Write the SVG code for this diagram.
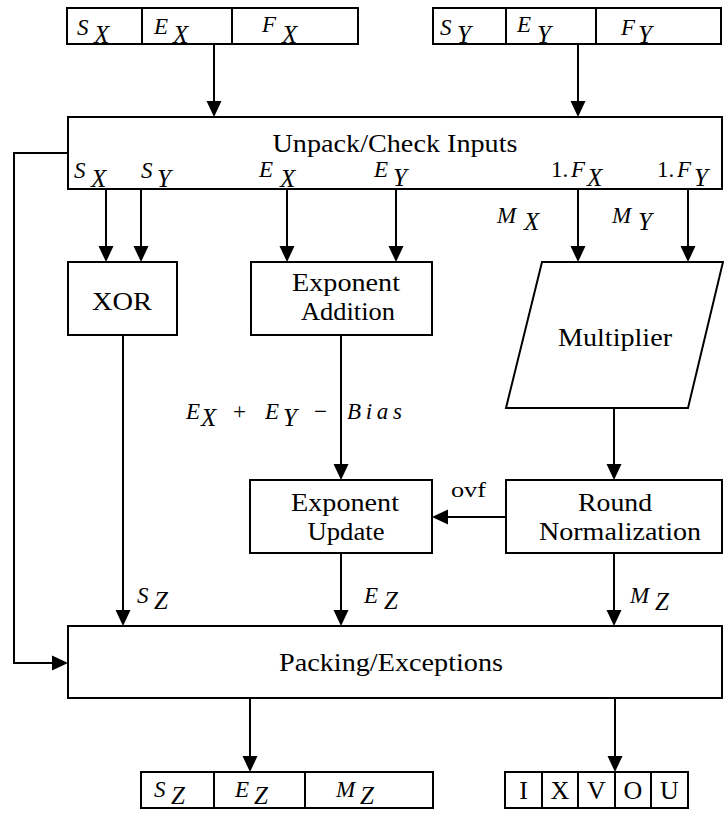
<svg xmlns="http://www.w3.org/2000/svg" width="724" height="813" viewBox="0 0 724 813">
<defs>
<style>
.box{fill:#fff;stroke:#000;stroke-width:2}
.ln{fill:none;stroke:#000;stroke-width:2}
.arr{fill:none;stroke:#000;stroke-width:2;marker-end:url(#ah)}
.t{font-family:"Liberation Serif","Times New Roman",serif;font-size:26px;fill:#000;text-anchor:middle}
.m{font-family:"Liberation Serif","Times New Roman",serif;font-style:italic;font-size:23px;fill:#000}
.s{font-size:25px}
.r{font-style:normal}
.o{font-family:"Liberation Serif","Times New Roman",serif;font-size:20px;fill:#000}
.f{font-family:"Liberation Serif","Times New Roman",serif;font-size:26px;fill:#000;text-anchor:middle}
</style>
<marker id="ah" viewBox="0 0 16 16" markerWidth="16" markerHeight="16" refX="13" refY="8" orient="auto" markerUnits="userSpaceOnUse">
<path d="M0,0.5 L16,8 L0,15.5 Z" fill="#000"/>
</marker>
</defs>
<rect width="724" height="813" fill="#fff"/>

<g id="connectors">
<line class="arr" x1="214" y1="44" x2="214" y2="114"/>
<line class="arr" x1="578" y1="44" x2="578" y2="114"/>
<line class="arr" x1="106" y1="189" x2="106" y2="259"/>
<line class="arr" x1="141" y1="189" x2="141" y2="259"/>
<line class="arr" x1="287" y1="189" x2="287" y2="259"/>
<line class="arr" x1="396" y1="189" x2="396" y2="259"/>
<line class="arr" x1="578" y1="189" x2="578" y2="259"/>
<line class="arr" x1="688" y1="189" x2="688" y2="259"/>
<line class="arr" x1="123" y1="335" x2="123" y2="623"/>
<line class="arr" x1="341" y1="335" x2="341" y2="477"/>
<line class="arr" x1="614" y1="408" x2="614" y2="477"/>
<line class="arr" x1="506" y1="517" x2="435" y2="517"/>
<line class="arr" x1="341" y1="553" x2="341" y2="623"/>
<line class="arr" x1="614" y1="553" x2="614" y2="623"/>
<polyline class="arr" points="68,153 14,153 14,663 65,663"/>
<line class="arr" x1="250" y1="698" x2="250" y2="769"/>
<line class="arr" x1="615" y1="698" x2="615" y2="769"/>
</g>

<g id="regX">
<rect class="box" x="67" y="8" width="291" height="36"/>
<line class="ln" x1="142" y1="8" x2="142" y2="44"/>
<line class="ln" x1="232" y1="8" x2="232" y2="44"/>
<text class="m" x="77" y="35">S<tspan class="s" x="94" y="43">X</tspan></text>
<text class="m" x="154" y="34">E<tspan class="s" x="173" y="43">X</tspan></text>
<text class="m" x="262" y="32">F<tspan class="s" x="282" y="43">X</tspan></text>
</g>

<g id="regY">
<rect class="box" x="433" y="8" width="288" height="36"/>
<line class="ln" x1="506" y1="8" x2="506" y2="44"/>
<line class="ln" x1="596" y1="8" x2="596" y2="44"/>
<text class="m" x="440" y="35">S<tspan class="s" x="457" y="43">Y</tspan></text>
<text class="m" x="517" y="32">E<tspan class="s" x="537" y="43">Y</tspan></text>
<text class="m" x="621" y="35">F<tspan class="s" x="638" y="43">Y</tspan></text>
</g>

<g id="unpack">
<rect class="box" x="68" y="117" width="654" height="72"/>
<text class="t" x="395" y="152" textLength="245" lengthAdjust="spacingAndGlyphs">Unpack/Check Inputs</text>
<text class="m" x="74" y="178">S<tspan class="s" x="91" y="187">X</tspan></text>
<text class="m" x="141" y="178">S<tspan class="s" x="157" y="187">Y</tspan></text>
<text class="m" x="259" y="177">E<tspan class="s" x="280" y="187">X</tspan></text>
<text class="m" x="374" y="177">E<tspan class="s" x="393" y="186">Y</tspan></text>
<text class="m" x="551" y="177"><tspan class="r">1.</tspan><tspan x="571">F</tspan><tspan class="s" x="587" y="186">X</tspan></text>
<text class="m" x="657" y="177"><tspan class="r">1.</tspan><tspan x="677">F</tspan><tspan class="s" x="694" y="186">Y</tspan></text>
</g>

<g id="mlabels">
<text class="m" x="497" y="223">M<tspan class="s" x="524" y="230">X</tspan></text>
<text class="m" x="612" y="223">M<tspan class="s" x="638" y="230">Y</tspan></text>
</g>

<g id="xor">
<rect class="box" x="68" y="262" width="109" height="73"/>
<text class="t" x="122" y="310" textLength="60" lengthAdjust="spacingAndGlyphs">XOR</text>
</g>

<g id="expadd">
<rect class="box" x="251" y="262" width="181" height="73"/>
<text class="t" x="346" y="291" textLength="108" lengthAdjust="spacingAndGlyphs">Exponent</text>
<text class="t" x="348" y="320" textLength="94" lengthAdjust="spacingAndGlyphs">Addition</text>
</g>

<g id="multiplier">
<polygon class="box" points="542,262 723,262 688,408 506,408"/>
<text class="t" x="615" y="346" textLength="114" lengthAdjust="spacingAndGlyphs">Multiplier</text>
</g>

<g id="biaslabel">
<text class="m" x="186" y="419">E<tspan class="s" x="201" y="426">X</tspan><tspan class="r" x="233" y="419">+</tspan><tspan x="265" y="419">E</tspan><tspan class="s" x="283" y="426">Y</tspan><tspan class="r" x="314" y="419">−</tspan><tspan x="347" y="419" textLength="55" lengthAdjust="spacing">Bias</tspan></text>
</g>

<g id="expupdate">
<rect class="box" x="250" y="480" width="182" height="73"/>
<text class="t" x="345" y="511" textLength="108" lengthAdjust="spacingAndGlyphs">Exponent</text>
<text class="t" x="346" y="540" textLength="77" lengthAdjust="spacingAndGlyphs">Update</text>
</g>

<g id="roundnorm">
<rect class="box" x="506" y="480" width="216" height="73"/>
<text class="t" x="615" y="511" textLength="74" lengthAdjust="spacingAndGlyphs">Round</text>
<text class="t" x="620" y="540" textLength="162" lengthAdjust="spacingAndGlyphs">Normalization</text>
</g>

<g id="ovflabel">
<text class="o" x="451" y="497" textLength="35" lengthAdjust="spacingAndGlyphs">ovf</text>
</g>

<g id="zlabels">
<text class="m" x="137" y="603">S<tspan class="s" x="154" y="609">Z</tspan></text>
<text class="m" x="364" y="603">E<tspan class="s" x="384" y="609">Z</tspan></text>
<text class="m" x="630" y="603">M<tspan class="s" x="655" y="610">Z</tspan></text>
</g>

<g id="packing">
<rect class="box" x="68" y="626" width="654" height="72"/>
<text class="t" x="391" y="671" textLength="224" lengthAdjust="spacingAndGlyphs">Packing/Exceptions</text>
</g>

<g id="regZ">
<rect class="box" x="141" y="772" width="292" height="36"/>
<line class="ln" x1="214" y1="772" x2="214" y2="808"/>
<line class="ln" x1="305" y1="772" x2="305" y2="808"/>
<text class="m" x="154" y="797">S<tspan class="s" x="171" y="804">Z</tspan></text>
<text class="m" x="235" y="797">E<tspan class="s" x="254" y="804">Z</tspan></text>
<text class="m" x="336" y="797">M<tspan class="s" x="360" y="804">Z</tspan></text>
</g>

<g id="flags">
<rect class="box" x="505" y="772" width="183" height="36"/>
<line class="ln" x1="542" y1="772" x2="542" y2="808"/>
<line class="ln" x1="578" y1="772" x2="578" y2="808"/>
<line class="ln" x1="615" y1="772" x2="615" y2="808"/>
<line class="ln" x1="651" y1="772" x2="651" y2="808"/>
<text class="f" x="523.5" y="799">I</text>
<text class="f" x="560" y="799">X</text>
<text class="f" x="596.5" y="799">V</text>
<text class="f" x="633" y="799">O</text>
<text class="f" x="669.5" y="799">U</text>
</g>
</svg>
